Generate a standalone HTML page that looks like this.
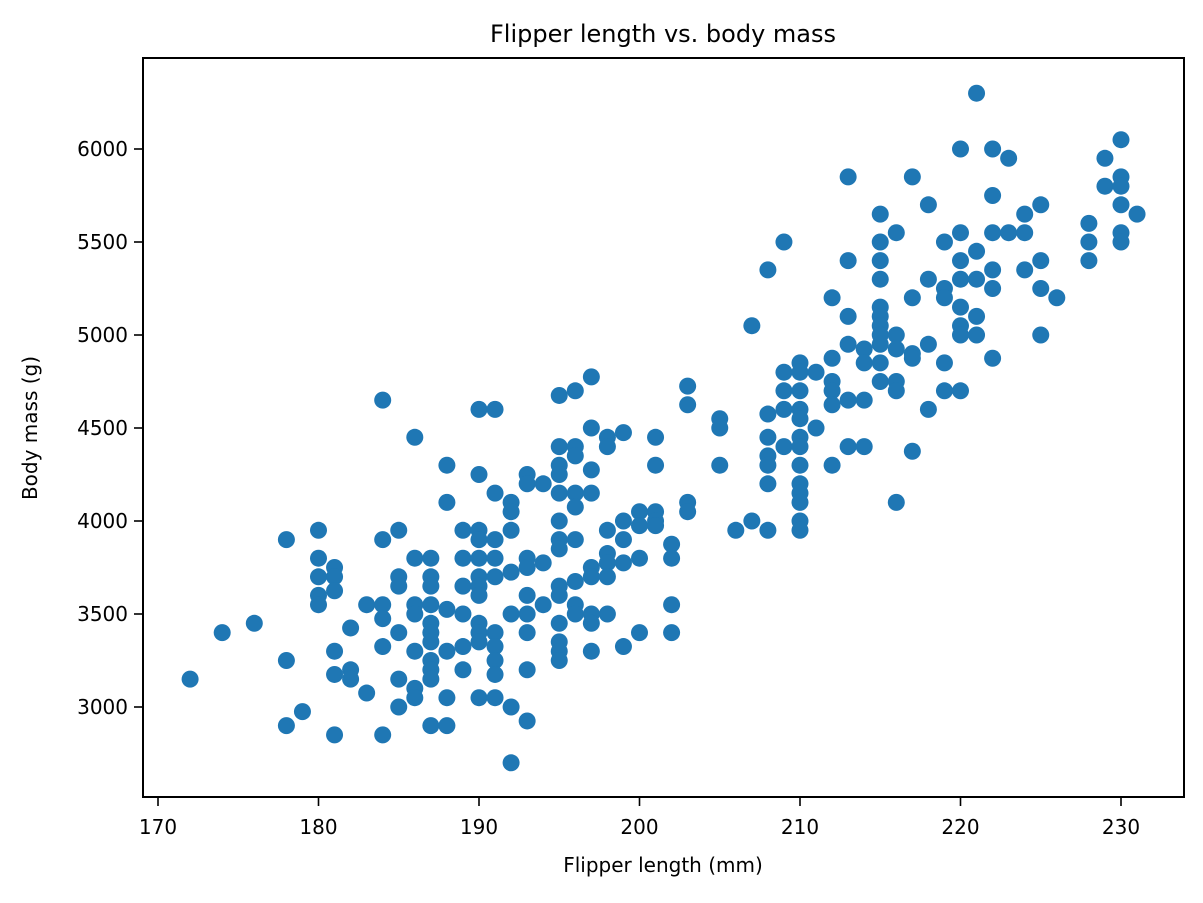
<!DOCTYPE html>
<html><head><meta charset="utf-8"><style>
html,body{margin:0;padding:0;background:#fff;}
svg text{font-family:"DejaVu Sans","Liberation Sans",sans-serif;fill:#000;}
</style></head><body>
<svg width="1203" height="898" xmlns="http://www.w3.org/2000/svg">
<text x="663" y="42" font-size="24" text-anchor="middle">Flipper length vs. body mass</text>
<g id="marks"></g>
<rect x="143" y="58" width="1041" height="739" fill="none" stroke="#000" stroke-width="2"/>
<g id="xt"></g>
<g id="yt"></g>
<text x="663" y="872" font-size="20" text-anchor="middle">Flipper length (mm)</text>
<text transform="translate(37,428) rotate(-90)" font-size="20" text-anchor="middle">Body mass (g)</text>
</svg>
<script>
const flipperGroups=[172,174,176,178,179,180,181,182,183,184,185,186,187,188,189,190,191,192,193,194,195,196,197,198,199,200,201,202,203,205,206,207,208,209,210,211,212,213,214,215,216,217,218,219,220,221,222,223,224,225,226,228,229,230,231];
const massGroups=[
[3150],[3400],[3450],[3900,3250,2900],[2975],[3950,3800,3700,3600,3550],
[3750,3700,3625,3300,3175,2850],[3425,3200,3150],[3550,3075],
[4650,3900,3550,3475,3325,2850],[3950,3700,3650,3400,3150,3000],
[4450,3800,3550,3500,3300,3100,3050],
[3800,3700,3650,3550,3450,3400,3350,3250,3200,3150,2900],
[4300,4100,3525,3300,3050,2900],[3950,3800,3650,3500,3325,3200],
[4600,4250,3950,3900,3800,3700,3650,3600,3450,3400,3350,3050],
[4600,4150,3900,3800,3700,3400,3325,3250,3175,3050],
[4100,4050,3950,3725,3500,3000,2700],
[4250,4200,3800,3750,3600,3500,3400,3200,2925],[4200,3775,3550],
[4675,4400,4300,4250,4150,4000,3900,3850,3650,3600,3450,3350,3300,3250],
[4700,4400,4350,4150,4075,3900,3675,3550,3500],
[4775,4500,4275,4150,3750,3700,3500,3450,3300],
[4450,4400,3950,3825,3775,3700,3500],[4475,4000,3900,3775,3325],
[4050,3975,3800,3400],[4450,4300,4050,4000,3975],[3875,3800,3550,3400],
[4725,4625,4100,4050],[4550,4500,4300],[3950],[5050,4000],
[5350,4575,4450,4350,4300,4200,3950],[5500,4800,4700,4600,4400],
[4850,4800,4700,4600,4550,4450,4400,4300,4200,4150,4100,4000,3950],
[4800,4500],[5200,4875,4750,4700,4625,4300],[5850,5400,5100,4950,4650,4400],
[4925,4850,4650,4400],[5650,5500,5400,5300,5150,5100,5050,5000,4950,4850,4750],
[5550,5000,4925,4750,4700,4100],[5850,5200,4900,4875,4375],[5700,5300,4950,4600],
[5500,5250,5200,4850,4700],[6000,5550,5400,5300,5150,5050,5000,4700],
[6300,5450,5300,5100,5000],[6000,5750,5550,5350,5250,4875],[5950,5550],
[5650,5550,5350],[5700,5400,5250,5000],[5200],[5600,5500,5400],[5950,5800],
[6050,5850,5800,5700,5550,5500],[5650]];
const xTickLabels=[170,180,190,200,210,220,230];
const yTickLabels=[3000,3500,4000,4500,5000,5500,6000];
const NS="http://www.w3.org/2000/svg";
function xs(v){return 158+(v-170)*16.05;}
function ys(v){return 707-(v-3000)*(558/3000);}
const marks=document.getElementById('marks');
flipperGroups.forEach((f,i)=>{massGroups[i].forEach(m=>{
 const c=document.createElementNS(NS,'circle');
 c.setAttribute('cx',xs(f));c.setAttribute('cy',ys(m));c.setAttribute('r',8.5);c.setAttribute('fill','#1f77b4');
 
 
 marks.appendChild(c);});});
const xt=document.getElementById('xt');
xTickLabels.forEach(v=>{
 const l=document.createElementNS(NS,'line');
 l.setAttribute('x1',xs(v));l.setAttribute('x2',xs(v));l.setAttribute('y1',797);l.setAttribute('y2',806);l.setAttribute('stroke','#000');l.setAttribute('stroke-width',1.6);
 
 
 xt.appendChild(l);
 const t=document.createElementNS(NS,'text');
 t.setAttribute('x',xs(v));t.setAttribute('y',834);t.setAttribute('font-size',20);t.setAttribute('text-anchor','middle');t.textContent=v;
 
 
 xt.appendChild(t);});
const yt=document.getElementById('yt');
yTickLabels.forEach(v=>{
 const l=document.createElementNS(NS,'line');
 l.setAttribute('x1',134);l.setAttribute('x2',143);l.setAttribute('y1',ys(v));l.setAttribute('y2',ys(v));l.setAttribute('stroke','#000');l.setAttribute('stroke-width',1.6);
 
 
 yt.appendChild(l);
 const t=document.createElementNS(NS,'text');
 t.setAttribute('x',128);t.setAttribute('y',ys(v)+7);t.setAttribute('font-size',20);t.setAttribute('text-anchor','end');t.textContent=v;
 
 
 yt.appendChild(t);});
</script>
</body></html>
